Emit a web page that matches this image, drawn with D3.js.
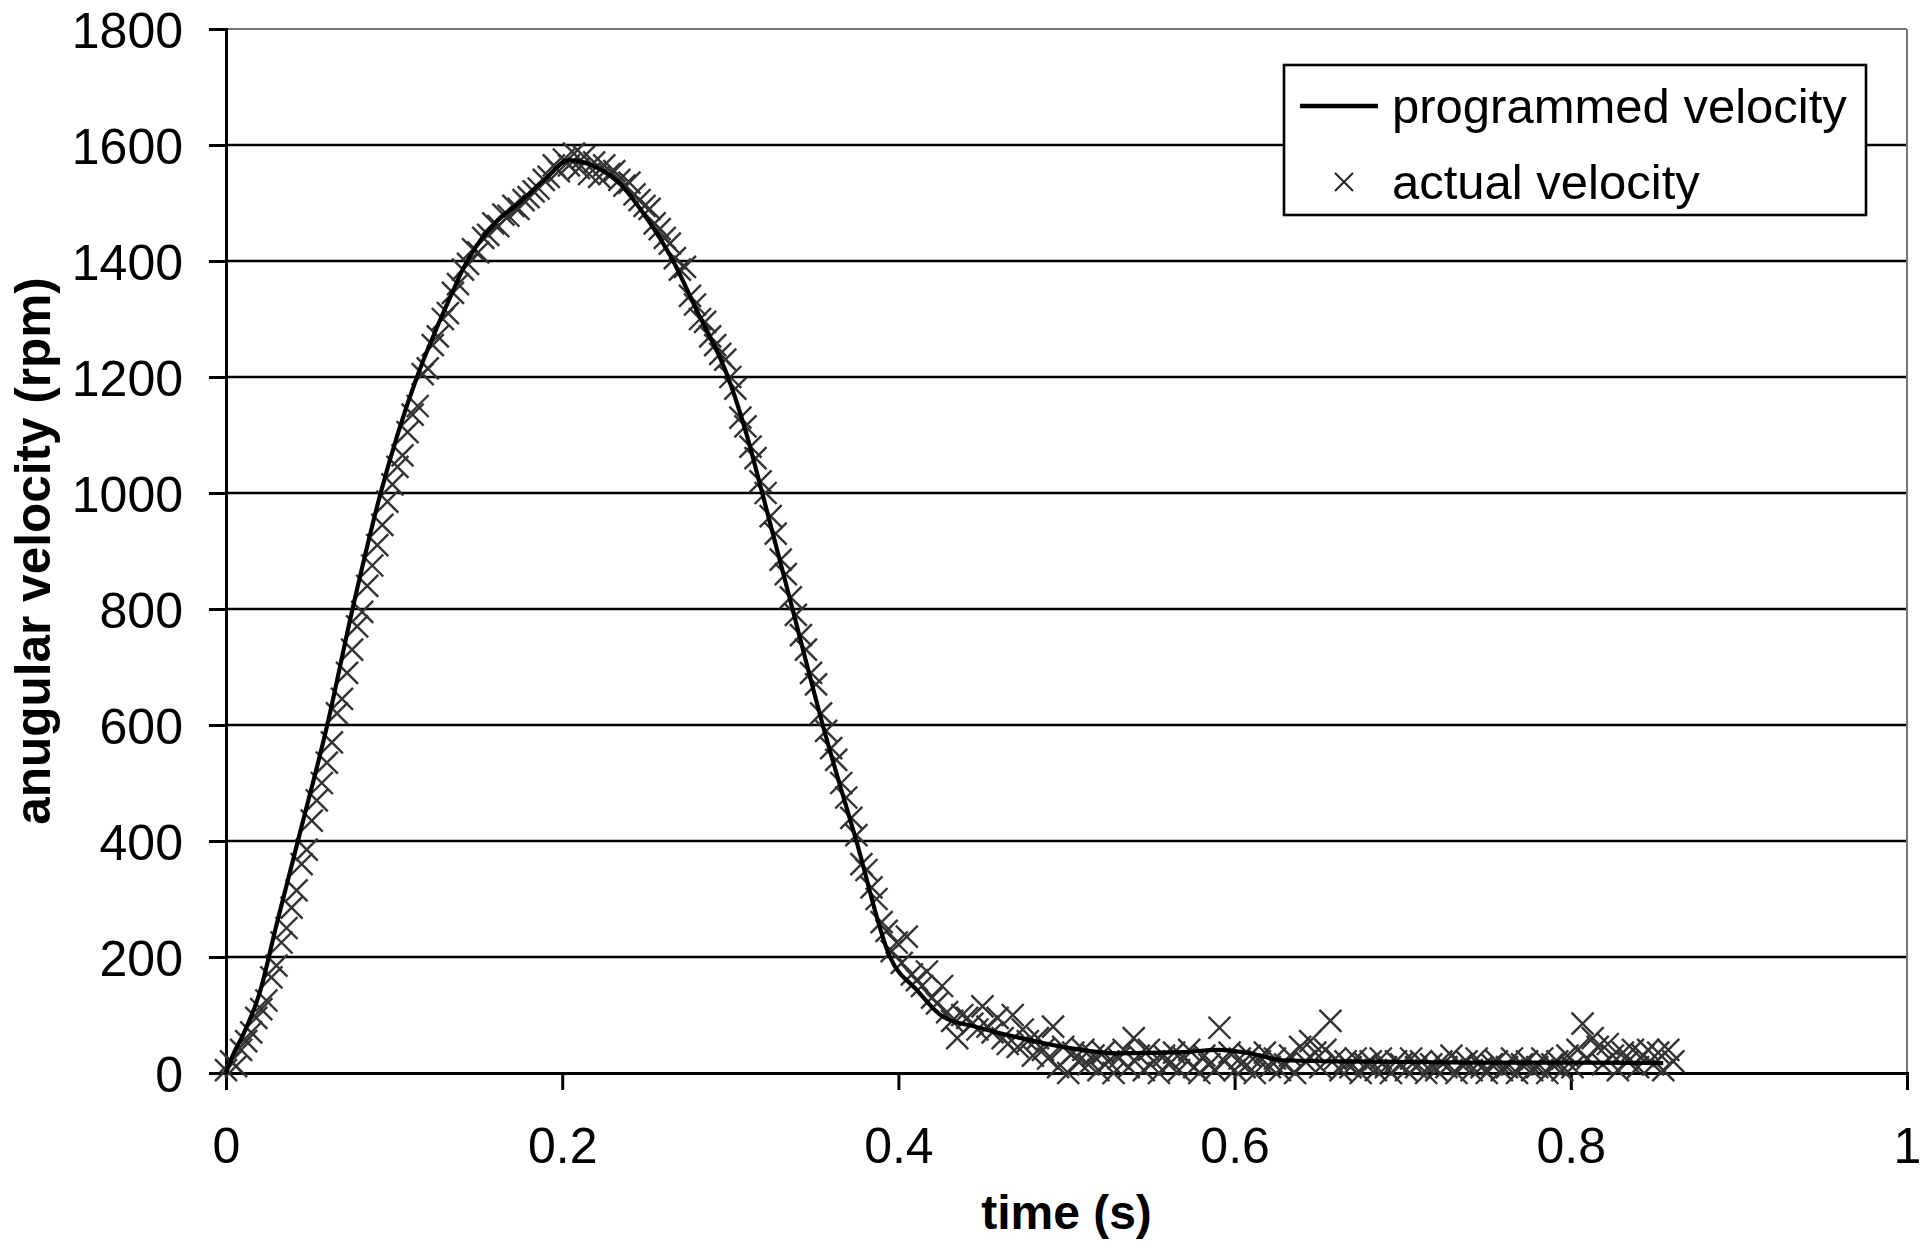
<!DOCTYPE html>
<html>
<head>
<meta charset="utf-8">
<script src="https://cdn.jsdelivr.net/npm/d3@7"></script>
<style>
  html, body { margin: 0; padding: 0; background: #fff; }
  svg { display: block; }
  text { font-family: "Liberation Sans", Arial, sans-serif; fill: #000; }
</style>
</head>
<body>
<svg id="chart" width="1920" height="1249"></svg>
<script>
// ---------- data ----------
const xTicks = [0, 0.2, 0.4, 0.6, 0.8, 1];
const xTickLabels = ["0", "0.2", "0.4", "0.6", "0.8", "1"];
const yTicks = [0, 200, 400, 600, 800, 1000, 1200, 1400, 1600, 1800];
const yTickLabels = ["0", "200", "400", "600", "800", "1000", "1200", "1400", "1600", "1800"];

const programmedTime = [0, 0.004, 0.01, 0.02, 0.03, 0.044, 0.06, 0.0755, 0.092, 0.1136, 0.125, 0.133, 0.142, 0.15, 0.16, 0.175, 0.19, 0.204, 0.22, 0.234, 0.25, 0.266, 0.28, 0.2986, 0.309, 0.319, 0.337, 0.355, 0.375, 0.395, 0.411, 0.4265, 0.447, 0.47, 0.498, 0.53, 0.569, 0.59, 0.609, 0.629, 0.66, 0.7, 0.75, 0.8, 0.855];
const programmedVelocity = [0, 30, 65, 138, 255, 414, 597, 803, 1000, 1200, 1282, 1335, 1392, 1430, 1465, 1502, 1542, 1574, 1562, 1534, 1475, 1400, 1315, 1200, 1108, 1000, 800, 600, 400, 200, 143, 97, 79, 62, 45, 34, 36, 40, 34, 22, 20, 19, 18, 18, 17];

const actualTime = [0.000,0.003,0.006,0.009,0.012,0.015,0.018,0.021,0.024,0.027,0.030,0.033,0.036,0.039,0.042,0.045,0.048,0.051,0.054,0.057,0.060,0.063,0.066,0.069,0.072,0.075,0.078,0.081,0.084,0.087,0.090,0.093,0.096,0.099,0.102,0.105,0.108,0.111,0.114,0.117,0.120,0.123,0.126,0.129,0.132,0.135,0.138,0.141,0.144,0.147,0.150,0.153,0.156,0.159,0.162,0.165,0.168,0.171,0.174,0.177,0.180,0.183,0.186,0.189,0.192,0.195,0.198,0.201,0.204,0.207,0.210,0.213,0.216,0.219,0.222,0.225,0.228,0.231,0.234,0.237,0.240,0.243,0.246,0.249,0.252,0.255,0.258,0.261,0.264,0.267,0.270,0.273,0.276,0.279,0.282,0.285,0.288,0.291,0.294,0.297,0.300,0.303,0.306,0.309,0.312,0.315,0.318,0.321,0.324,0.327,0.330,0.333,0.336,0.339,0.342,0.345,0.348,0.351,0.354,0.357,0.360,0.363,0.366,0.369,0.372,0.375,0.378,0.381,0.384,0.387,0.390,0.393,0.396,0.399,0.402,0.405,0.408,0.411,0.414,0.417,0.420,0.423,0.426,0.429,0.432,0.435,0.438,0.441,0.444,0.447,0.450,0.453,0.456,0.459,0.462,0.465,0.468,0.471,0.474,0.477,0.480,0.483,0.486,0.489,0.492,0.495,0.498,0.501,0.504,0.507,0.510,0.513,0.516,0.519,0.522,0.525,0.528,0.531,0.534,0.537,0.540,0.543,0.546,0.549,0.552,0.555,0.558,0.561,0.564,0.567,0.570,0.573,0.576,0.579,0.582,0.585,0.588,0.591,0.594,0.597,0.600,0.603,0.606,0.609,0.612,0.615,0.618,0.621,0.624,0.627,0.630,0.633,0.636,0.639,0.642,0.645,0.648,0.651,0.654,0.657,0.660,0.663,0.666,0.669,0.672,0.675,0.678,0.681,0.684,0.687,0.690,0.693,0.696,0.699,0.702,0.705,0.708,0.711,0.714,0.717,0.720,0.723,0.726,0.729,0.732,0.735,0.738,0.741,0.744,0.747,0.750,0.753,0.756,0.759,0.762,0.765,0.768,0.771,0.774,0.777,0.780,0.783,0.786,0.789,0.792,0.795,0.798,0.801,0.804,0.807,0.810,0.813,0.816,0.819,0.822,0.825,0.828,0.831,0.834,0.837,0.840,0.843,0.846,0.849,0.852,0.855,0.858,0.861];
const actualVelocity = [5,20,12,40,55,70,95,110,125,165,185,225,250,285,315,360,385,435,470,500,535,570,620,645,690,730,770,795,840,875,910,945,985,1015,1045,1065,1105,1135,1150,1205,1215,1255,1270,1300,1310,1345,1360,1385,1395,1420,1415,1440,1445,1465,1460,1480,1478,1495,1490,1505,1510,1520,1525,1540,1545,1565,1555,1575,1565,1585,1560,1580,1550,1570,1545,1565,1550,1555,1540,1530,1535,1515,1505,1495,1490,1465,1455,1440,1430,1405,1385,1390,1340,1325,1300,1295,1270,1255,1240,1230,1200,1180,1130,1115,1080,1060,1020,1000,960,930,885,860,820,790,755,730,690,670,620,590,560,540,500,475,440,410,360,350,320,300,260,245,210,225,190,235,170,160,150,175,130,120,150,105,90,60,100,95,85,75,115,80,70,95,60,50,100,45,75,55,30,60,40,25,80,10,45,0,35,20,40,15,30,5,35,20,0,25,40,10,60,30,5,40,20,0,30,15,35,5,25,40,10,0,30,15,5,78,20,35,5,25,10,30,0,20,35,10,25,5,15,30,0,45,20,55,35,10,40,90,25,5,20,10,25,0,15,20,5,25,10,0,20,15,5,25,10,20,0,15,5,20,10,30,0,15,20,5,25,10,0,15,20,5,10,25,0,15,20,5,10,25,0,15,20,5,30,10,40,85,25,60,45,15,50,30,5,35,20,40,10,30,40,15,35,5,40,20];

const legendLabels = ["programmed velocity", "actual velocity"];

// ---------- layout ----------
const svg = d3.select("#chart");
const plot = { left: 226, right: 1907, top: 29, bottom: 1073 };

const x = d3.scaleLinear().domain([0, 1]).range([plot.left, plot.right]);
const y = d3.scaleLinear().domain([0, 1800]).range([plot.bottom, plot.top]);

// horizontal grid lines
svg.append("g").selectAll("line")
  .data(yTicks.filter(d => d > 0))
  .join("line")
  .attr("x1", plot.left).attr("x2", plot.right)
  .attr("y1", d => y(d)).attr("y2", d => y(d))
  .attr("stroke", d => d === 1800 ? "#777" : "#000")
  .attr("stroke-width", d => d === 1800 ? 2 : 2.6);

// right border
svg.append("line")
  .attr("x1", plot.right).attr("x2", plot.right)
  .attr("y1", plot.top).attr("y2", plot.bottom)
  .attr("stroke", "#777").attr("stroke-width", 2);

// y axis
const yAxis = d3.axisLeft(y).tickValues(yTicks)
  .tickFormat((d, i) => yTickLabels[i]).tickSize(17).tickPadding(26);
const gy = svg.append("g").attr("transform", `translate(${plot.left},0)`).call(yAxis);
gy.select(".domain").attr("stroke", "#000").attr("stroke-width", 3);
gy.selectAll(".tick line").attr("stroke", "#000").attr("stroke-width", 3);
gy.selectAll(".tick text")
  .style("font-family", '"Liberation Sans", Arial, sans-serif')
  .style("font-size", "50px").attr("fill", "#000")
  .attr("dy", "0.36em");

// x axis
const xAxis = d3.axisBottom(x).tickValues(xTicks)
  .tickFormat((d, i) => xTickLabels[i]).tickSize(17).tickPadding(37);
const gx = svg.append("g").attr("transform", `translate(0,${plot.bottom})`).call(xAxis);
gx.select(".domain").attr("stroke", "#000").attr("stroke-width", 3);
gx.selectAll(".tick line").attr("stroke", "#000").attr("stroke-width", 3);
gx.selectAll(".tick text")
  .style("font-family", '"Liberation Sans", Arial, sans-serif')
  .style("font-size", "50px").attr("fill", "#000");

// axis titles
svg.append("text")
  .attr("x", (plot.left + plot.right) / 2).attr("y", 1229)
  .attr("text-anchor", "middle")
  .style("font-size", "48px").style("font-weight", "bold")
  .text("time (s)");

svg.append("text")
  .attr("transform", `translate(50,${(plot.top + plot.bottom) / 2}) rotate(-90)`)
  .attr("text-anchor", "middle")
  .style("font-size", "49.5px").style("font-weight", "bold")
  .text("anugular velocity (rpm)");

// actual velocity markers (x crosses)
const actual = actualTime.map((t, i) => ({ t, v: actualVelocity[i] }));
const h = 11;
svg.append("g").selectAll("path")
  .data(actual)
  .join("path")
  .attr("d", d => {
    const cx = x(d.t), cy = y(d.v);
    return `M${cx - h},${cy - h}L${cx + h},${cy + h}M${cx - h},${cy + h}L${cx + h},${cy - h}`;
  })
  .attr("stroke", "#333").attr("stroke-width", 2.4).attr("fill", "none");

// programmed velocity line
const programmed = programmedTime.map((t, i) => ({ t, v: programmedVelocity[i] }));
svg.append("path")
  .datum(programmed)
  .attr("d", d3.line().x(d => x(d.t)).y(d => y(d.v)).curve(d3.curveMonotoneX))
  .attr("fill", "none").attr("stroke", "#000").attr("stroke-width", 4.2)
  .attr("stroke-linejoin", "round");

// legend
const lg = svg.append("g");
lg.append("rect")
  .attr("x", 1284).attr("y", 65).attr("width", 582).attr("height", 150)
  .attr("fill", "#fff").attr("stroke", "#000").attr("stroke-width", 2.6);
lg.append("line")
  .attr("x1", 1300).attr("x2", 1378).attr("y1", 106).attr("y2", 106)
  .attr("stroke", "#000").attr("stroke-width", 4.5);
const lh = 9;
lg.append("path")
  .attr("d", `M${1344 - lh},${182 - lh}L${1344 + lh},${182 + lh}M${1344 - lh},${182 + lh}L${1344 + lh},${182 - lh}`)
  .attr("stroke", "#222").attr("stroke-width", 2).attr("fill", "none");
lg.selectAll("text.lbl")
  .data(legendLabels)
  .join("text")
  .attr("class", "lbl")
  .attr("x", 1392).attr("y", (d, i) => 123 + i * 76)
  .style("font-size", "49px")
  .text(d => d);
</script>
</body>
</html>
